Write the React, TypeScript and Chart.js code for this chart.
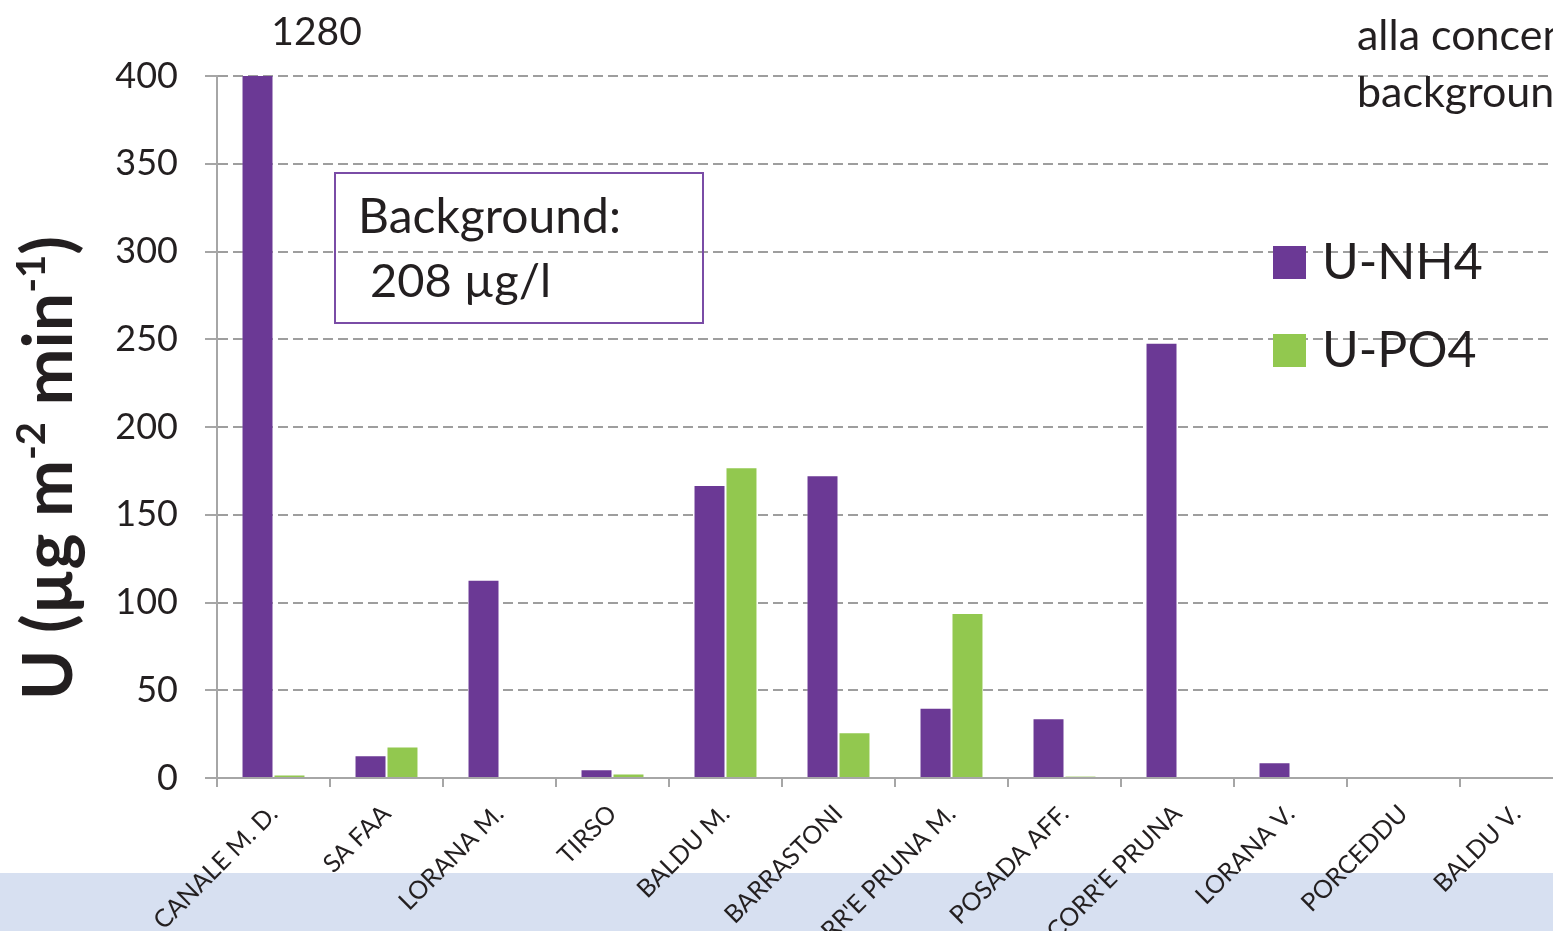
import { useEffect, useRef } from "react";
import { Chart, registerables } from "chart.js";

Chart.register(...registerables);

// Sampling sites along the x axis
const categories = [
  "CANALE M. D.",
  "SA FAA",
  "LORANA M.",
  "TIRSO",
  "BALDU M.",
  "BARRASTONI",
  "CORR'E PRUNA M.",
  "POSADA AFF.",
  "CORR'E PRUNA",
  "LORANA V.",
  "PORCEDDU",
  "BALDU V.",
];

// Uptake rates, µg m-2 min-1
const nh4Values = [1280, 13, 113, 5, 167, 172.5, 40, 34, 248, 9, 0, 0];
const po4Values = [2, 18, 0, 2.5, 177, 26, 94, 1, 0, 0, 0, 0];

const seriesLabels = ["U-NH4", "U-PO4"];
const yMin = 0;
const yMax = 400;
const yStep = 50;

const noteLines = ["Background:", " 208 µg/l"];
const cornerLines = ["alla concentrazione di", "background"];
const titleParts: [string, boolean][] = [
  ["U (µg m", false],
  ["-2", true],
  [" min", false],
  ["-1", true],
  [")", false],
];

const PURPLE = "#6B3995";
const GREEN = "#92C84F";
const BAND = "#D7E0F1";
const GRID = "#9E9E9E";
const AXIS = "#A6A6A6";
const TEXT = "#231F20";
const FONT = "Lato, 'Open Sans', sans-serif";

const decorations = {
  id: "decorations",
  beforeDraw(chart: any) {
    const { ctx, width, height } = chart;
    ctx.save();
    ctx.fillStyle = "#ffffff";
    ctx.fillRect(0, 0, width, height);
    ctx.fillStyle = BAND;
    ctx.fillRect(0, 873, width, height - 873);
    ctx.restore();
  },
  afterDraw(chart: any) {
    const { ctx, chartArea } = chart;
    ctx.save();

    // value of the clipped first bar
    const first = chart.getDatasetMeta(0).data[0];
    ctx.fillStyle = TEXT;
    ctx.font = `39px ${FONT}`;
    ctx.textAlign = "center";
    ctx.textBaseline = "alphabetic";
    ctx.fillText(String(nh4Values[0]), first.x + 59, chartArea.top - 31);

    // background concentration note
    ctx.strokeStyle = "#7A4CA6";
    ctx.lineWidth = 2;
    ctx.strokeRect(335, 173, 368, 150);
    ctx.textAlign = "left";
    ctx.font = `48px ${FONT}`;
    ctx.fillText(noteLines[0], 358, 233);
    ctx.font = `47px ${FONT}`;
    ctx.fillText(noteLines[1], 358, 297);

    // corner text
    ctx.font = `43px ${FONT}`;
    ctx.fillText(cornerLines[0], 1357, 50);
    ctx.fillText(cornerLines[1], 1357, 107);

    // legend
    const colors = [PURPLE, GREEN];
    ctx.font = `50px ${FONT}`;
    seriesLabels.forEach((lab, i) => {
      const top = 246 + i * 88;
      ctx.fillStyle = colors[i];
      ctx.fillRect(1273, top, 33, 33);
      ctx.fillStyle = TEXT;
      ctx.fillText(lab, 1322, top + 33);
    });

    // y axis title with superscripts
    ctx.translate(72, 700);
    ctx.rotate(-Math.PI / 2);
    let x = 0;
    titleParts.forEach(([txt, sup]) => {
      ctx.font = sup ? `bold 40px ${FONT}` : `bold 68px ${FONT}`;
      ctx.fillText(txt, x, sup ? -27 : 0);
      x += ctx.measureText(txt).width;
    });
    ctx.restore();
  },
};

export default function App() {
  const canvasRef = useRef<HTMLCanvasElement | null>(null);

  useEffect(() => {
    if (!canvasRef.current) return;
    const chart = new Chart(canvasRef.current, {
      type: "bar",
      data: {
        labels: categories,
        datasets: [
          {
            label: seriesLabels[0],
            data: nh4Values,
            backgroundColor: PURPLE,
            borderColor: "rgba(255,255,255,0.35)",
            borderWidth: 1,
            categoryPercentage: 0.566,
            barPercentage: 1,
          },
          {
            label: seriesLabels[1],
            data: po4Values,
            backgroundColor: GREEN,
            borderColor: "rgba(255,255,255,0.35)",
            borderWidth: 1,
            categoryPercentage: 0.566,
            barPercentage: 1,
          },
        ],
      },
      options: {
        animation: false,
        responsive: true,
        maintainAspectRatio: false,
        layout: { padding: { top: 76, right: 27, left: 0, bottom: 0 } },
        plugins: {
          legend: { display: false },
          tooltip: { enabled: false },
          title: { display: false },
        },
        scales: {
          x: {
            grid: {
              offset: true,
              drawOnChartArea: false,
              tickLength: 9,
              color: AXIS,
              lineWidth: 2,
            },
            border: { color: AXIS, width: 2 },
            ticks: {
              autoSkip: false,
              maxRotation: 45,
              minRotation: 45,
              color: TEXT,
              font: { family: FONT, size: 25 },
              padding: 12,
            },
            afterFit(scale: any) {
              scale.height = 153;
            },
          },
          y: {
            min: yMin,
            max: yMax,
            ticks: {
              stepSize: yStep,
              color: TEXT,
              font: { family: FONT, size: 36 },
              padding: 27,
            },
            grid: {
              color: GRID,
              lineWidth: 2,
              tickLength: 12,
              tickColor: AXIS,
              tickBorderDash: [],
            },
            border: { display: true, color: AXIS, width: 2, dash: [10, 5] },
            afterFit(scale: any) {
              scale.width = 217;
            },
          },
        },
      },
      plugins: [decorations],
    });
    return () => chart.destroy();
  }, []);

  return (
    <div
      style={{
        position: "fixed",
        left: 0,
        top: 0,
        width: "1553px",
        height: "931px",
        overflow: "hidden",
        background: "#fff",
      }}
    >
      <div style={{ width: "1600px", height: "931px" }}>
        <canvas ref={canvasRef} />
      </div>
    </div>
  );
}
